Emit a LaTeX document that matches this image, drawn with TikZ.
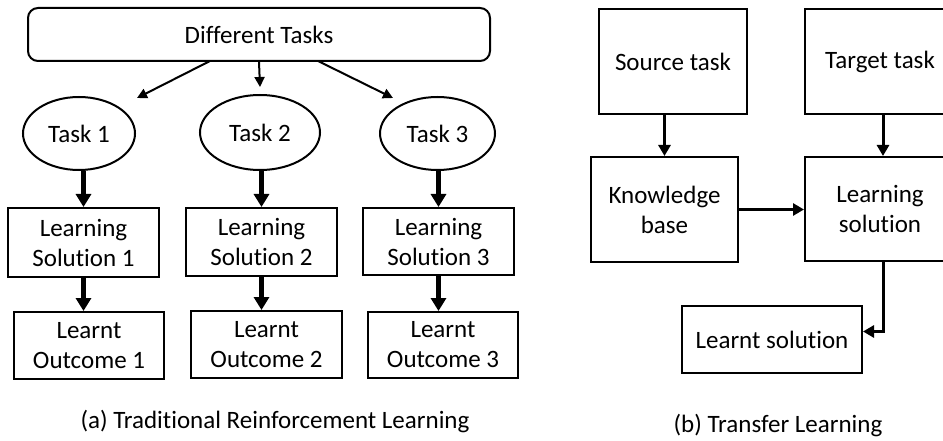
\documentclass[tikz,border=0pt]{standalone}
\usepackage{fontspec}
\setmainfont[Ligatures=NoCommon]{Carlito}
\usetikzlibrary{shapes.geometric,arrows.meta}

\begin{document}
\begin{tikzpicture}[x=1pt,y=-1pt,
  txt/.style={font=\fontsize{25}{30}\selectfont},
  box/.style={txt,draw,line width=2pt,inner sep=0pt,align=center},
  oval/.style={txt,draw,line width=2pt,ellipse,inner sep=0pt},
  thinarrow/.style={line width=2pt,-{Triangle[width=10pt,length=10pt]}},
  fatarrow/.style={line width=5pt,-{Triangle[width=15pt,length=13pt]}},
  midarrow/.style={line width=3pt,-{Triangle[width=12pt,length=11pt]}},
]
\useasboundingbox (0,0) rectangle (943,441);
\clip (0,0) rectangle (943,441);

% ---- (a) traditional reinforcement learning ----
\node[box,rounded corners=10pt,minimum width=462pt,minimum height=53pt] (dt) at (259,34.5) {Different Tasks};

\node[oval,minimum width=112pt,minimum height=73pt] (t1) at (79,133.5) {Task 1};
\node[oval,minimum width=120pt,minimum height=75pt] (t2) at (260,132.5) {Task 2};
\node[oval,minimum width=115pt,minimum height=73pt] (t3) at (437.5,133.5) {Task 3};

\node[box,minimum width=151pt,minimum height=69pt] (ls1) at (83.5,242.5) {Learning\\Solution 1};
\node[box,minimum width=151pt,minimum height=68pt] (ls2) at (261.5,242) {Learning\\Solution 2};
\node[box,minimum width=151pt,minimum height=67pt] (ls3) at (438.5,241.5) {Learning\\Solution 3};

\node[box,minimum width=150pt,minimum height=67pt] (lo1) at (89,345.5) {Learnt\\Outcome 1};
\node[box,minimum width=151pt,minimum height=67pt] (lo2) at (266.5,344.5) {Learnt\\Outcome 2};
\node[box,minimum width=150pt,minimum height=66pt] (lo3) at (443,345) {Learnt\\Outcome 3};

\coordinate (dl) at (210,61);
\coordinate (dr) at (318,61);
\coordinate (el) at (137,98);
\coordinate (em) at (260,87);
\coordinate (er) at (393,98);
\draw[thinarrow] (dl) -- (el);
\draw[thinarrow] (dt.south) -- (em);
\draw[thinarrow] (dr) -- (er);

\foreach \i in {1,2,3}{
  \draw[fatarrow] (ls\i.north |- t\i.south) -- (ls\i.north);
  \draw[fatarrow] (ls\i.south) -- (lo\i.north -| ls\i.south);
}

\node[txt] (capa) at (275,422) {(a) Traditional Reinforcement Learning};

% ---- (b) transfer learning ----
\node[box,minimum width=148pt,minimum height=105pt] (src) at (673,61.5) {Source task};
\node[box,minimum width=150pt,minimum height=105pt] (tgt) at (880,61.5) {Target task};
\node[box,minimum width=147pt,minimum height=105pt] (kb) at (664.5,209.5) {Knowledge\\base};
\node[box,minimum width=150pt,minimum height=104pt] (lsb) at (880,209) {Learning\\solution};
\node[box,minimum width=180pt,minimum height=67pt] (lout) at (772,339.5) {Learnt solution};

\draw[midarrow] (kb.north |- src.south) -- (kb.north);
\draw[midarrow] ([xshift=3pt]tgt.south) -- ([xshift=3pt]lsb.north);
\draw[midarrow] (kb.east) -- (kb.east -| lsb.west);
\draw[midarrow] ([xshift=3pt]lsb.south) |- ([yshift=8pt]lout.east);

\node[txt] (capb) at (778,426) {(b) Transfer Learning};
\end{tikzpicture}
\end{document}
